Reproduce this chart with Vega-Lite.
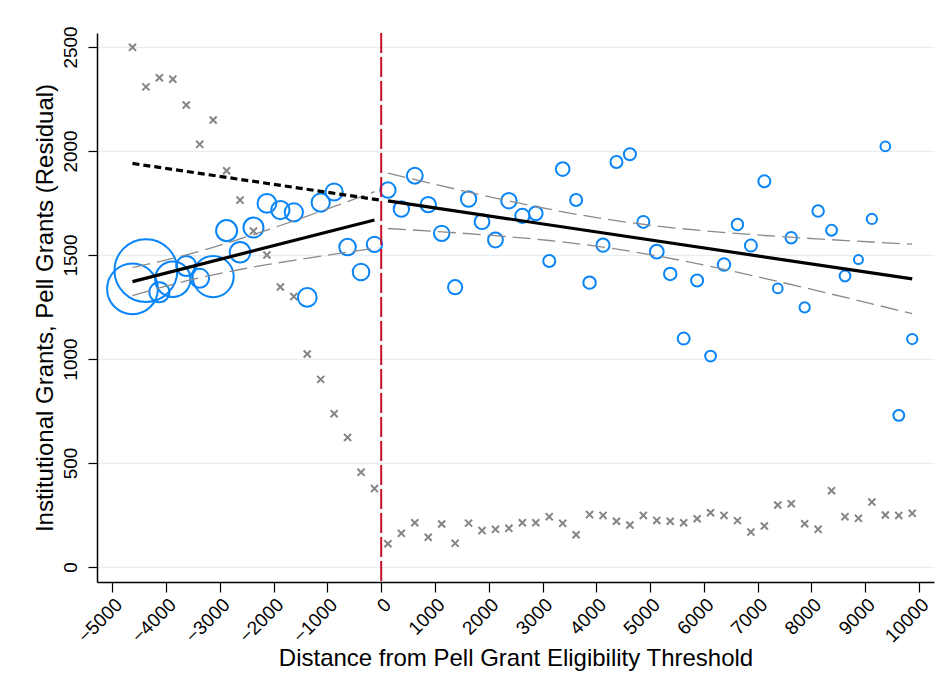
{
  "$schema": "https://vega.github.io/schema/vega-lite/v6.json",
  "width": 837,
  "height": 549,
  "autosize": {"type": "none"},
  "padding": {"left": 97, "top": 33, "right": 13, "bottom": 114},
  "background": "white",
  "config": {
    "view": {"stroke": null},
    "font": "Liberation Sans",
    "axis": {
      "domainColor": "black",
      "domainWidth": 1.5,
      "tickColor": "black",
      "tickWidth": 1.2,
      "labelColor": "black",
      "titleColor": "black",
      "labelFont": "Liberation Sans",
      "titleFont": "Liberation Sans",
      "labelFontSize": 19,
      "titleFontSize": 24,
      "titleFontWeight": "normal"
    }
  },
  "datasets": {
    "pell": [
      {"x": -4625, "y": 2498}, {"x": -4375, "y": 2308}, {"x": -4125, "y": 2352}, {"x": -3875, "y": 2345},
      {"x": -3625, "y": 2221}, {"x": -3375, "y": 2032}, {"x": -3125, "y": 2149}, {"x": -2875, "y": 1905},
      {"x": -2625, "y": 1764}, {"x": -2375, "y": 1615}, {"x": -2125, "y": 1500}, {"x": -1875, "y": 1346},
      {"x": -1625, "y": 1300}, {"x": -1375, "y": 1024}, {"x": -1125, "y": 902}, {"x": -875, "y": 737},
      {"x": -625, "y": 623}, {"x": -375, "y": 455}, {"x": -125, "y": 377},
      {"x": 125, "y": 112}, {"x": 375, "y": 162}, {"x": 625, "y": 213}, {"x": 875, "y": 143},
      {"x": 1125, "y": 207}, {"x": 1375, "y": 114}, {"x": 1625, "y": 211}, {"x": 1875, "y": 175},
      {"x": 2125, "y": 181}, {"x": 2375, "y": 186}, {"x": 2625, "y": 213}, {"x": 2875, "y": 213},
      {"x": 3125, "y": 242}, {"x": 3375, "y": 210}, {"x": 3625, "y": 155}, {"x": 3875, "y": 252},
      {"x": 4125, "y": 248}, {"x": 4375, "y": 220}, {"x": 4625, "y": 202}, {"x": 4875, "y": 248},
      {"x": 5125, "y": 224}, {"x": 5375, "y": 220}, {"x": 5625, "y": 213}, {"x": 5875, "y": 232},
      {"x": 6125, "y": 261}, {"x": 6375, "y": 248}, {"x": 6625, "y": 223}, {"x": 6875, "y": 168},
      {"x": 7125, "y": 197}, {"x": 7375, "y": 298}, {"x": 7625, "y": 304}, {"x": 7875, "y": 208},
      {"x": 8125, "y": 181}, {"x": 8375, "y": 367}, {"x": 8625, "y": 242}, {"x": 8875, "y": 234},
      {"x": 9125, "y": 312}, {"x": 9375, "y": 250}, {"x": 9625, "y": 248}, {"x": 9875, "y": 258}
    ],
    "inst": [
      {"x": -4625, "y": 1337, "n": 880}, {"x": -4375, "y": 1425, "n": 1347}, {"x": -4125, "y": 1321, "n": 137},
      {"x": -3875, "y": 1383, "n": 428}, {"x": -3625, "y": 1447, "n": 137}, {"x": -3375, "y": 1388, "n": 121},
      {"x": -3125, "y": 1396, "n": 576}, {"x": -2875, "y": 1617, "n": 151}, {"x": -2625, "y": 1513, "n": 144},
      {"x": -2375, "y": 1632, "n": 137}, {"x": -2125, "y": 1748, "n": 121}, {"x": -1875, "y": 1716, "n": 114},
      {"x": -1625, "y": 1705, "n": 114}, {"x": -1375, "y": 1296, "n": 121}, {"x": -1125, "y": 1752, "n": 114},
      {"x": -875, "y": 1803, "n": 100}, {"x": -625, "y": 1538, "n": 94}, {"x": -375, "y": 1418, "n": 94},
      {"x": -125, "y": 1551, "n": 81},
      {"x": 125, "y": 1812, "n": 81}, {"x": 375, "y": 1721, "n": 81}, {"x": 625, "y": 1881, "n": 86},
      {"x": 875, "y": 1742, "n": 81}, {"x": 1125, "y": 1604, "n": 81}, {"x": 1375, "y": 1345, "n": 69},
      {"x": 1625, "y": 1769, "n": 81}, {"x": 1875, "y": 1660, "n": 75}, {"x": 2125, "y": 1572, "n": 75},
      {"x": 2375, "y": 1761, "n": 81}, {"x": 2625, "y": 1688, "n": 69}, {"x": 2875, "y": 1700, "n": 64},
      {"x": 3125, "y": 1471, "n": 49}, {"x": 3375, "y": 1913, "n": 64}, {"x": 3625, "y": 1764, "n": 49},
      {"x": 3875, "y": 1367, "n": 53}, {"x": 4125, "y": 1547, "n": 59}, {"x": 4375, "y": 1947, "n": 49},
      {"x": 4625, "y": 1984, "n": 49}, {"x": 4875, "y": 1659, "n": 49}, {"x": 5125, "y": 1516, "n": 64},
      {"x": 5375, "y": 1409, "n": 53}, {"x": 5625, "y": 1098, "n": 49}, {"x": 5875, "y": 1377, "n": 49},
      {"x": 6125, "y": 1014, "n": 40}, {"x": 6375, "y": 1454, "n": 53}, {"x": 6625, "y": 1646, "n": 45},
      {"x": 6875, "y": 1545, "n": 49}, {"x": 7125, "y": 1854, "n": 49}, {"x": 7375, "y": 1339, "n": 32},
      {"x": 7625, "y": 1583, "n": 45}, {"x": 7875, "y": 1248, "n": 36}, {"x": 8125, "y": 1711, "n": 45},
      {"x": 8375, "y": 1619, "n": 40}, {"x": 8625, "y": 1399, "n": 40}, {"x": 8875, "y": 1478, "n": 28},
      {"x": 9125, "y": 1673, "n": 36}, {"x": 9375, "y": 2022, "n": 32}, {"x": 9625, "y": 729, "n": 40},
      {"x": 9875, "y": 1096, "n": 36}
    ],
    "ci": [
      {"s": "L-lo", "x": -4625, "y": 1304}, {"s": "L-lo", "x": -4125, "y": 1341.6}, {"s": "L-lo", "x": -3625, "y": 1375.2},
      {"s": "L-lo", "x": -3125, "y": 1404.5}, {"s": "L-lo", "x": -2625, "y": 1430.2}, {"s": "L-lo", "x": -2125, "y": 1453.2},
      {"s": "L-lo", "x": -1625, "y": 1474.4}, {"s": "L-lo", "x": -1125, "y": 1494.4}, {"s": "L-lo", "x": -625, "y": 1513.5},
      {"s": "L-lo", "x": -125, "y": 1532},
      {"s": "L-hi", "x": -4625, "y": 1440}, {"s": "L-hi", "x": -4125, "y": 1468.2}, {"s": "L-hi", "x": -3625, "y": 1500.4},
      {"s": "L-hi", "x": -3125, "y": 1536.9}, {"s": "L-hi", "x": -2625, "y": 1577}, {"s": "L-hi", "x": -2125, "y": 1619.6},
      {"s": "L-hi", "x": -1625, "y": 1664.2}, {"s": "L-hi", "x": -1125, "y": 1710}, {"s": "L-hi", "x": -625, "y": 1756.7},
      {"s": "L-hi", "x": -125, "y": 1804},
      {"s": "R-lo", "x": 125, "y": 1627.2}, {"s": "R-lo", "x": 1125, "y": 1611.3}, {"s": "R-lo", "x": 2125, "y": 1592.8},
      {"s": "R-lo", "x": 3125, "y": 1569.5}, {"s": "R-lo", "x": 4125, "y": 1538}, {"s": "R-lo", "x": 5125, "y": 1496},
      {"s": "R-lo", "x": 6125, "y": 1444.8}, {"s": "R-lo", "x": 7125, "y": 1387.7}, {"s": "R-lo", "x": 8125, "y": 1327.3},
      {"s": "R-lo", "x": 9125, "y": 1265.1}, {"s": "R-lo", "x": 9875, "y": 1217.7},
      {"s": "R-hi", "x": 125, "y": 1893.2}, {"s": "R-hi", "x": 1125, "y": 1832.1}, {"s": "R-hi", "x": 2125, "y": 1773.6},
      {"s": "R-hi", "x": 3125, "y": 1719.9}, {"s": "R-hi", "x": 4125, "y": 1674.4}, {"s": "R-hi", "x": 5125, "y": 1639.4},
      {"s": "R-hi", "x": 6125, "y": 1613.6}, {"s": "R-hi", "x": 7125, "y": 1593.7}, {"s": "R-hi", "x": 8125, "y": 1577.1},
      {"s": "R-hi", "x": 9125, "y": 1562.3}, {"s": "R-hi", "x": 9875, "y": 1551.9}
    ],
    "fit": [
      {"s": "L", "x": -4625, "y": 1372}, {"s": "L", "x": -125, "y": 1668},
      {"s": "R", "x": 125, "y": 1760}, {"s": "R", "x": 9875, "y": 1385}
    ],
    "extrap": [
      {"x": -4625, "y": 1940}, {"x": 0, "y": 1763}
    ]
  },
  "layer": [
    {
      "data": {"name": "pell"},
      "mark": {"type": "point", "shape": "M-1,-1L1,1M-1,1L1,-1", "filled": false, "stroke": "#858585", "strokeWidth": 2, "size": 50, "opacity": 1},
      "encoding": {
        "x": {"field": "x", "type": "quantitative",
          "scale": {"domain": [-5285, 10280], "nice": false, "zero": false},
          "axis": {"title": "Distance from Pell Grant Eligibility Threshold",
            "values": [-5000, -4000, -3000, -2000, -1000, 0, 1000, 2000, 3000, 4000, 5000, 6000, 7000, 8000, 9000, 10000],
            "format": "d",
            "labelAngle": -45, "grid": false, "tickSize": 10, "labelPadding": 3, "titlePadding": 0, "labelFlush": false, "labelOverlap": false}},
        "y": {"field": "y", "type": "quantitative",
          "scale": {"domain": [-72, 2567], "nice": false, "zero": false},
          "axis": {"title": "Institutional Grants, Pell Grants (Residual)",
            "values": [0, 500, 1000, 1500, 2000, 2500],
            "format": "d",
            "labelAngle": -90, "grid": true, "gridColor": "#e6eef1", "gridWidth": 1.5,
            "tickSize": 9, "labelPadding": 8, "titlePadding": 4, "labelFlush": false, "labelOverlap": false}}
      }
    },
    {
      "data": {"name": "inst"},
      "mark": {"type": "point", "shape": "circle", "filled": false, "stroke": "#0a85f7", "strokeWidth": 2, "opacity": 1},
      "encoding": {
        "x": {"field": "x", "type": "quantitative"},
        "y": {"field": "y", "type": "quantitative"},
        "size": {"field": "n", "type": "quantitative", "scale": {"domain": [0, 1400], "range": [0, 4100], "zero": true}, "legend": null}
      }
    },
    {
      "data": {"name": "ci"},
      "mark": {"type": "line", "color": "#8a8a8a", "strokeWidth": 1.3, "strokeDash": [18, 7], "interpolate": "monotone"},
      "encoding": {
        "x": {"field": "x", "type": "quantitative"},
        "y": {"field": "y", "type": "quantitative"},
        "detail": {"field": "s", "type": "nominal"}
      }
    },
    {
      "data": {"name": "fit"},
      "mark": {"type": "line", "color": "black", "strokeWidth": 3.2},
      "encoding": {
        "x": {"field": "x", "type": "quantitative"},
        "y": {"field": "y", "type": "quantitative"},
        "detail": {"field": "s", "type": "nominal"}
      }
    },
    {
      "data": {"name": "extrap"},
      "mark": {"type": "line", "color": "black", "strokeWidth": 3.2, "strokeDash": [7, 4]},
      "encoding": {
        "x": {"field": "x", "type": "quantitative"},
        "y": {"field": "y", "type": "quantitative"}
      }
    },
    {
      "data": {"values": [{"x": 0}]},
      "mark": {"type": "rule", "color": "#c8102e", "strokeWidth": 2, "strokeDash": [20, 4]},
      "encoding": {"x": {"field": "x", "type": "quantitative"}}
    }
  ]
}
